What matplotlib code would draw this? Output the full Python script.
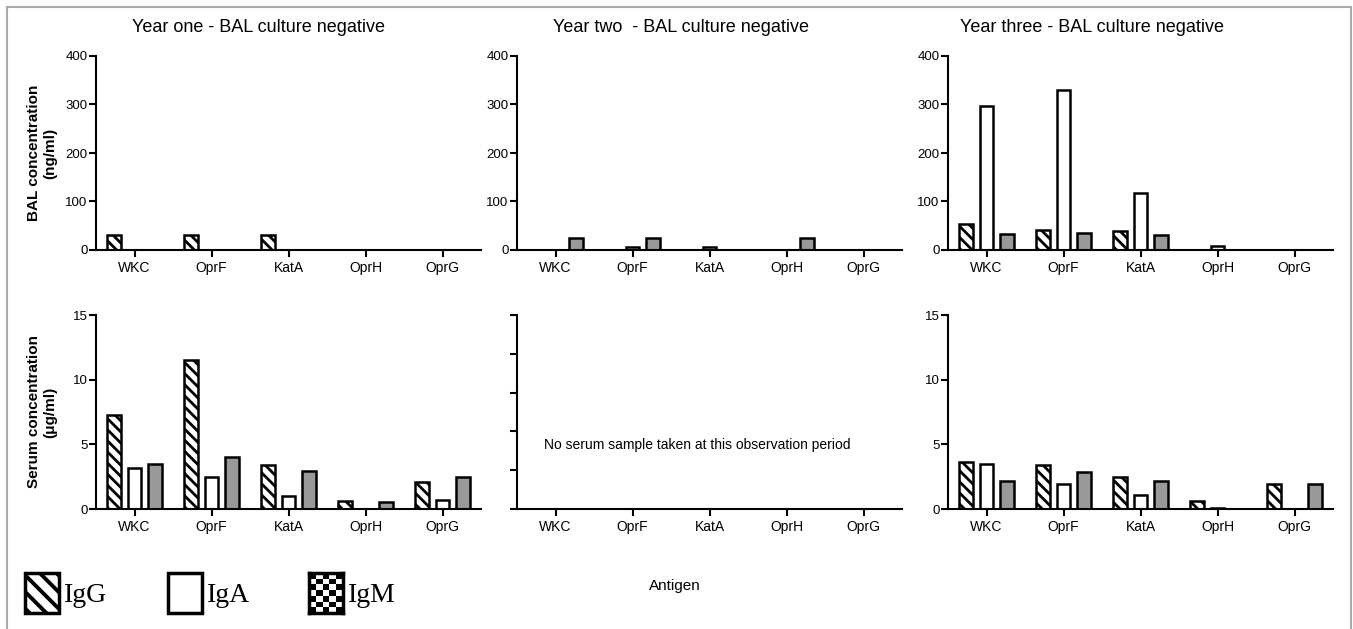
import numpy as np
import matplotlib.pyplot as plt
from matplotlib.patches import Rectangle

plt.rcParams['font.family'] = ['Liberation Sans', 'DejaVu Sans']
plt.rcParams['hatch.linewidth'] = 2.0
plt.rcParams['axes.linewidth'] = 1.5

antigens = ['WKC', 'OprF', 'KatA', 'OprH', 'OprG']
isotypes = ['IgG', 'IgA', 'IgM']

# BAL concentration (ng/ml)
bal_y1_igg = [30, 30, 30, 0, 0]
bal_y1_iga = [0, 0, 0, 0, 0]
bal_y1_igm = [0, 0, 0, 0, 0]
bal_y2_igg = [0, 0, 0, 0, 0]
bal_y2_iga = [0, 6, 6, 0, 0]
bal_y2_igm = [25, 25, 0, 25, 0]
bal_y3_igg = [53, 41, 39, 0, 0]
bal_y3_iga = [297, 330, 118, 8, 0]
bal_y3_igm = [34, 36, 31, 0, 0]

# serum concentration (ug/ml), no serum in year two
serum_y1_igg = [7.3, 11.5, 3.4, 0.6, 2.1]
serum_y1_iga = [3.2, 2.45, 1.0, 0, 0.7]
serum_y1_igm = [3.5, 4.05, 2.95, 0.55, 2.45]
serum_y3_igg = [3.6, 3.4, 2.5, 0.65, 1.9]
serum_y3_iga = [3.5, 1.9, 1.1, 0.08, 0]
serum_y3_igm = [2.15, 2.85, 2.15, 0, 1.9]

titles = ['Year one - BAL culture negative', 'Year two  - BAL culture negative',
          'Year three - BAL culture negative']

W, H = 1353, 629
fig = plt.figure(figsize=(W / 100, H / 100), dpi=100)

styles = {
    'IgG': dict(facecolor='white', hatch='\\\\\\'),
    'IgA': dict(facecolor='white'),
    'IgM': dict(facecolor='#999999'),
}
offsets = [-0.27, 0, 0.27]
x = np.arange(len(antigens))


def px_ax(left, top, width=385, height=194):
    return fig.add_axes([left / W, 1 - (top + height) / H, width / W, height / H])


def style_ax(ax, ymax, ystep, ylabels=True):
    ax.set_xlim(-0.5, 4.5)
    ax.set_ylim(0, ymax)
    ax.set_yticks(np.arange(0, ymax + ystep / 2, ystep))
    ax.set_xticks(x, antigens)
    ax.spines['top'].set_visible(False)
    ax.spines['right'].set_visible(False)
    ax.tick_params(direction='out', length=5, width=1.5)
    ax.tick_params(axis='x', labelsize=10, pad=3)
    ax.tick_params(axis='y', labelsize=9.5, pad=1)
    if not ylabels:
        ax.set_yticklabels([])


def draw_bars(ax, series):
    for k, iso in enumerate(isotypes):
        ax.bar(x + offsets[k], series[k], width=0.18, edgecolor='black',
               linewidth=1.8, **styles[iso])


lefts = [96, 517, 948]
bal = [[bal_y1_igg, bal_y1_iga, bal_y1_igm],
       [bal_y2_igg, bal_y2_iga, bal_y2_igm],
       [bal_y3_igg, bal_y3_iga, bal_y3_igm]]
serum = [[serum_y1_igg, serum_y1_iga, serum_y1_igm], None,
         [serum_y3_igg, serum_y3_iga, serum_y3_igm]]

for i in range(3):
    ax = px_ax(lefts[i], 56)
    draw_bars(ax, bal[i])
    style_ax(ax, 400, 100)

    ax2 = px_ax(lefts[i], 315)
    if serum[i] is not None:
        draw_bars(ax2, serum[i])
        style_ax(ax2, 15, 5)
    else:
        style_ax(ax2, 15, 3, ylabels=False)
        ax2.text(0.07, 0.33, 'No serum sample taken at this observation period',
                 transform=ax2.transAxes, fontsize=10, va='center')

title_x = [258, 681, 1092]
for i in range(3):
    fig.text(title_x[i] / W, 1 - 28 / H, titles[i], fontsize=13, ha='center', va='center')

fig.text(42 / W, 1 - 153 / H, 'BAL concentration\n(ng/ml)', rotation=90, fontsize=11,
         fontweight='bold', ha='center', va='center', multialignment='center')
fig.text(42 / W, 1 - 412 / H, 'Serum concentration\n(\u03bcg/ml)', rotation=90, fontsize=11,
         fontweight='bold', ha='center', va='center', multialignment='center')
fig.text(675 / W, 1 - 586 / H, 'Antigen', fontsize=11, ha='center', va='center')

# legend drawn by hand, coarser stripes in the key
plt.rcParams['hatch.linewidth'] = 2.8
leg_styles = dict(styles)
leg_styles['IgG'] = dict(facecolor='white', hatch='\\\\')
leg_x = [25, 168, 309]
for k, iso in enumerate(isotypes):
    lx = leg_x[k]
    if iso == 'IgM':
        lax = fig.add_axes([lx / W, 1 - 613 / H, 34 / W, 40 / H])
        board = np.indices((7, 5)).sum(axis=0) % 2
        lax.imshow(board, cmap='gray', interpolation='nearest', aspect='auto')
        lax.set_xticks([])
        lax.set_yticks([])
        for s in lax.spines.values():
            s.set_linewidth(2.5)
    else:
        fig.patches.append(Rectangle((lx / W, 1 - 613 / H), 34 / W, 40 / H,
                                     transform=fig.transFigure, edgecolor='black',
                                     linewidth=2.5, **leg_styles[iso]))
    fig.text((lx + 39) / W, 1 - 596 / H, iso, fontsize=20, va='center',
             family=['Liberation Serif', 'DejaVu Serif'])

# grey frame round the figure
fig.patches.append(Rectangle((7 / W, -0.05), (1351 - 7) / W, 1.05 - 7 / H,
                             transform=fig.transFigure, facecolor='none',
                             edgecolor='#aaaaaa', linewidth=1.5))

fig.savefig('out.png', dpi=100)
